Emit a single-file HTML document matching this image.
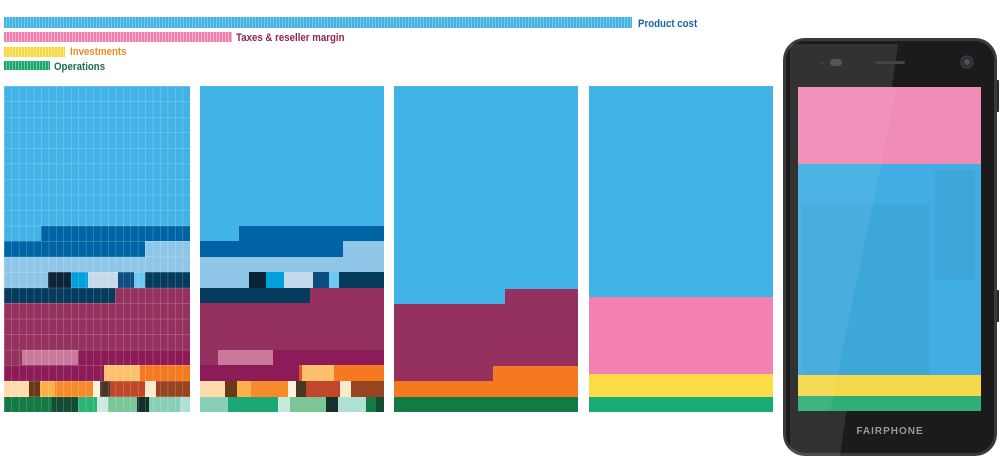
<!DOCTYPE html>
<html><head><meta charset="utf-8"><style>
html,body{margin:0;padding:0;background:#fff;width:1000px;height:459px;overflow:hidden}
.lbl{position:absolute;font-family:"Liberation Sans",sans-serif;font-weight:bold;font-size:11px;transform:scaleX(0.88);transform-origin:left center;white-space:nowrap;line-height:12px}
.bar{position:absolute;left:4px}
</style></head><body>
<div class="bar" style="top:17px;width:628px;height:11px;background:repeating-linear-gradient(90deg,#3fb1e3 0 2px,#7ccbef 2px 3px)"></div>
<div class="lbl" style="left:638px;top:18px;color:#1464a8">Product cost</div>
<div class="bar" style="top:32px;width:228px;height:10px;background:repeating-linear-gradient(90deg,#f07fb0 0 2px,#f8b4d2 2px 3px)"></div>
<div class="lbl" style="left:236px;top:32px;color:#8c2457">Taxes &amp; reseller margin</div>
<div class="bar" style="top:47px;width:61px;height:10px;background:repeating-linear-gradient(90deg,#f8d83c 0 2px,#fbe88a 2px 3px)"></div>
<div class="lbl" style="left:70px;top:46px;color:#f08a24">Investments</div>
<div class="bar" style="top:61px;width:46px;height:9px;background:repeating-linear-gradient(90deg,#1aa870 0 2px,#6cc79e 2px 3px)"></div>
<div class="lbl" style="left:54px;top:61px;color:#1c6b47">Operations</div>

<svg width="1000" height="459" style="position:absolute;left:0;top:0">
<defs>
<pattern id="g" x="4" y="86" width="7.44" height="15.52" patternUnits="userSpaceOnUse">
<path d="M0 0V15.52M0 0H7.44" stroke="#fff" stroke-opacity="0.35" stroke-width="1" fill="none"/>
</pattern>
</defs>
<g>
<rect x="4" y="86" width="186" height="140" fill="#41b3e6"/>
<rect x="4" y="226" width="37" height="15" fill="#41b3e6"/><rect x="41" y="226" width="149" height="15" fill="#0063a6"/>
<rect x="4" y="241" width="141" height="16" fill="#0063a6"/><rect x="145" y="241" width="45" height="16" fill="#8fc6e8"/>
<rect x="4" y="257" width="186" height="15" fill="#8fc6e8"/>
<rect x="4" y="272" width="44" height="16" fill="#8fc6e8"/><rect x="48" y="272" width="23" height="16" fill="#0b2538"/><rect x="71" y="272" width="17" height="16" fill="#00a0dc"/><rect x="88" y="272" width="30" height="16" fill="#c4d9ea"/><rect x="118" y="272" width="16" height="16" fill="#0a4f80"/><rect x="134" y="272" width="11" height="16" fill="#6ec8ef"/><rect x="145" y="272" width="45" height="16" fill="#053b5c"/>
<rect x="4" y="288" width="111" height="15" fill="#053b5c"/><rect x="115" y="288" width="75" height="15" fill="#94315e"/>
<rect x="4" y="303" width="186" height="47" fill="#94315e"/>
<rect x="4" y="350" width="18" height="15" fill="#94315e"/><rect x="22" y="350" width="56" height="15" fill="#c9799c"/><rect x="78" y="350" width="112" height="15" fill="#8c1b57"/>
<rect x="4" y="365" width="100" height="16" fill="#8c1b57"/><rect x="104" y="365" width="36" height="16" fill="#fcc06e"/><rect x="140" y="365" width="50" height="16" fill="#f47920"/>
<rect x="4" y="381" width="25" height="16" fill="#fddbaa"/><rect x="29" y="381" width="11" height="16" fill="#6a3718"/><rect x="40" y="381" width="15" height="16" fill="#fbb04c"/><rect x="55" y="381" width="38" height="16" fill="#f68b2a"/><rect x="93" y="381" width="7" height="16" fill="#fff3dc"/><rect x="100" y="381" width="10" height="16" fill="#4b3525"/><rect x="110" y="381" width="35" height="16" fill="#c0472a"/><rect x="145" y="381" width="11" height="16" fill="#fde9cc"/><rect x="156" y="381" width="34" height="16" fill="#964520"/>
<rect x="4" y="397" width="48" height="15" fill="#127a42"/><rect x="52" y="397" width="26" height="15" fill="#154a33"/><rect x="78" y="397" width="19" height="15" fill="#2bb574"/><rect x="97" y="397" width="11" height="15" fill="#cfe9e2"/><rect x="108" y="397" width="29" height="15" fill="#79c797"/><rect x="137" y="397" width="12" height="15" fill="#12302a"/><rect x="149" y="397" width="31" height="15" fill="#88cfb8"/><rect x="180" y="397" width="10" height="15" fill="#aee0d6"/>
<rect x="4" y="86" width="186" height="326" fill="url(#g)"/>
</g>
<g>
<rect x="200" y="86" width="184" height="140" fill="#41b3e6"/>
<rect x="200" y="226" width="39" height="15" fill="#41b3e6"/><rect x="239" y="226" width="145" height="15" fill="#0063a6"/>
<rect x="200" y="241" width="143" height="16" fill="#0063a6"/><rect x="343" y="241" width="41" height="16" fill="#8fc6e8"/>
<rect x="200" y="257" width="184" height="15" fill="#8fc6e8"/>
<rect x="200" y="272" width="49" height="16" fill="#8fc6e8"/><rect x="249" y="272" width="17" height="16" fill="#0b2538"/><rect x="266" y="272" width="18" height="16" fill="#00a0dc"/><rect x="284" y="272" width="29" height="16" fill="#c4d9ea"/><rect x="313" y="272" width="16" height="16" fill="#0a4f80"/><rect x="329" y="272" width="10" height="16" fill="#6ec8ef"/><rect x="339" y="272" width="45" height="16" fill="#053b5c"/>
<rect x="200" y="288" width="110" height="15" fill="#053b5c"/><rect x="310" y="288" width="74" height="15" fill="#94315e"/>
<rect x="200" y="303" width="184" height="47" fill="#94315e"/>
<rect x="200" y="350" width="18" height="15" fill="#94315e"/><rect x="218" y="350" width="55" height="15" fill="#c9799c"/><rect x="273" y="350" width="111" height="15" fill="#8c1b57"/>
<rect x="200" y="365" width="99" height="16" fill="#8c1b57"/><rect x="299" y="365" width="3" height="16" fill="#e8502a"/><rect x="302" y="365" width="32" height="16" fill="#fcc06e"/><rect x="334" y="365" width="50" height="16" fill="#f47920"/>
<rect x="200" y="381" width="25" height="16" fill="#fddbaa"/><rect x="225" y="381" width="12" height="16" fill="#6a3718"/><rect x="237" y="381" width="14" height="16" fill="#fbb04c"/><rect x="251" y="381" width="37" height="16" fill="#f68b2a"/><rect x="288" y="381" width="8" height="16" fill="#fff3dc"/><rect x="296" y="381" width="10" height="16" fill="#4b3525"/><rect x="306" y="381" width="34" height="16" fill="#c0472a"/><rect x="340" y="381" width="11" height="16" fill="#fde9cc"/><rect x="351" y="381" width="33" height="16" fill="#964520"/>
<rect x="200" y="397" width="28" height="15" fill="#88cfb8"/><rect x="228" y="397" width="50" height="15" fill="#1aa874"/><rect x="278" y="397" width="12" height="15" fill="#c8e8dc"/><rect x="290" y="397" width="36" height="15" fill="#7ac695"/><rect x="326" y="397" width="12" height="15" fill="#16302a"/><rect x="338" y="397" width="28" height="15" fill="#aee0d6"/><rect x="366" y="397" width="10" height="15" fill="#127a42"/><rect x="376" y="397" width="8" height="15" fill="#154a33"/>
</g>
<g>
<rect x="394" y="86" width="184" height="218" fill="#41b3e6"/>
<rect x="505" y="289" width="73" height="15" fill="#94315e"/>
<rect x="394" y="304" width="184" height="62" fill="#94315e"/>
<rect x="394" y="366" width="99" height="15" fill="#94315e"/>
<rect x="493" y="366" width="85" height="15" fill="#f47920"/>
<rect x="394" y="381" width="184" height="16" fill="#f47920"/>
<rect x="394" y="397" width="184" height="15" fill="#107b42"/>
</g>
<g>
<rect x="589" y="86" width="184" height="211" fill="#41b3e6"/>
<rect x="589" y="297" width="184" height="77" fill="#f280b0"/>
<rect x="589" y="374" width="184" height="23" fill="#fbdc46"/>
<rect x="589" y="397" width="184" height="15" fill="#1aab74"/>
</g>
<g>
<rect x="995" y="80" width="4" height="32" rx="1" fill="#2a2a2a"/>
<rect x="995" y="290" width="4" height="32" rx="1" fill="#2a2a2a"/>
<rect x="783" y="38" width="214" height="418" rx="22" fill="#3a3a3a"/>
<rect x="786" y="41" width="208" height="412" rx="19" fill="#1b1b1b"/>
<polygon points="790,44 898,44 840,456 790,456" fill="#ffffff" fill-opacity="0.1"/>
<circle cx="822" cy="63" r="1.5" fill="#444"/>
<rect x="830" y="59" width="12" height="7" rx="3.5" fill="#555"/>
<rect x="875" y="61" width="30" height="3" rx="1.5" fill="#444"/>
<circle cx="967" cy="62" r="6" fill="#2c2c2c" stroke="#444"/>
<circle cx="967" cy="62" r="3" fill="#445566"/>
<rect x="798" y="87" width="183" height="77" fill="#f08ab6"/>
<rect x="798" y="164" width="183" height="211" fill="#40aee2"/>
<rect x="801" y="205" width="128" height="180" fill="#3a9acb" fill-opacity="0.35"/>
<rect x="935" y="170" width="40" height="110" fill="#3790bf" fill-opacity="0.25"/>
<rect x="798" y="375" width="183" height="21" fill="#f5d84a"/>
<rect x="798" y="396" width="183" height="15" fill="#2fae78"/>
<polygon points="798,87 897,87 830,411 798,411" fill="#ffffff" fill-opacity="0.07"/>
<text x="890" y="434" text-anchor="middle" font-family="Liberation Sans, sans-serif" font-weight="bold" font-size="10" letter-spacing="1" fill="#9a9a9a">FAIRPHONE</text>
</g>
</svg>
</body></html>
